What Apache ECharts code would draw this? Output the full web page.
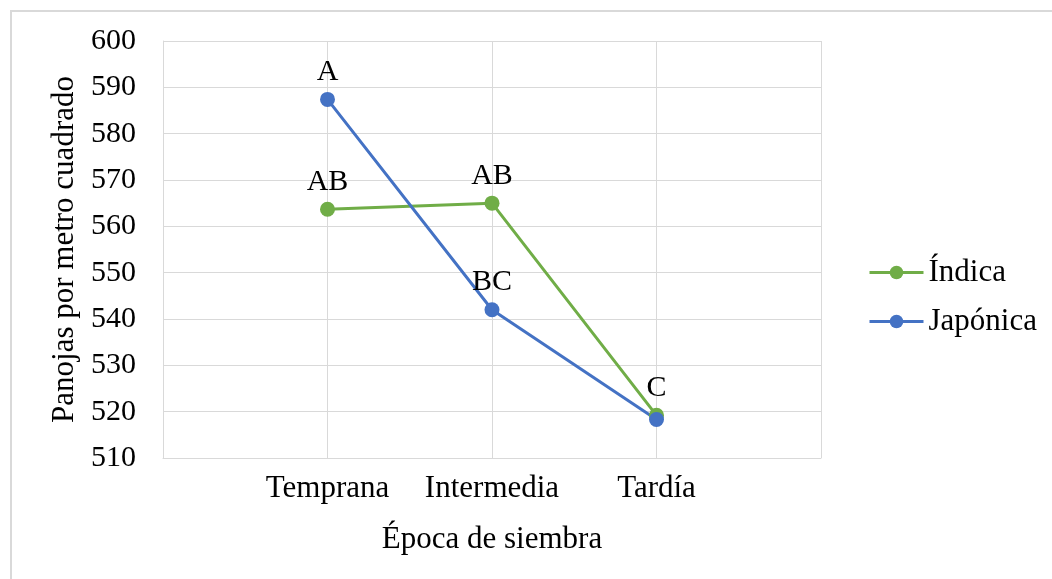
<!DOCTYPE html>
<html>
<head>
<meta charset="utf-8">
<script src="https://cdn.jsdelivr.net/npm/echarts@6/dist/echarts.min.js"></script>
<style>
  html, body { margin: 0; padding: 0; background: #fff; }
  #chart { width: 1052px; height: 579px; }
</style>
</head>
<body>
<div id="chart"></div>
<script>
// Sowing periods (category axis)
const categories = ['Temprana', 'Intermedia', 'Tardía'];
// Panicles per square metre by rice type
const indica = [563.7, 565.0, 519.2];
const japonica = [587.4, 542.0, 518.3];
// Mean-separation letters shown above the points
const indicaLetters = ['AB', 'AB', 'C'];
const japonicaLetters = ['A', 'BC', ''];
// Y-axis ticks
const yMin = 510, yMax = 600, yStep = 10;

const FONT = '"Liberation Serif", "Times New Roman", serif';
const GREEN = '#70AD47';
const BLUE = '#4472C4';
const GRID = '#d9d9d9';

function toPoints(values) {
  return values.map((v, i) => [i + 1, v]);
}

const chart = echarts.init(document.getElementById('chart'), null, { renderer: 'canvas' });

function lineSeries(name, values, letters, color) {
  return {
    name: name,
    type: 'line',
    data: toPoints(values),
    symbol: 'circle',
    symbolSize: 15,
    lineStyle: { color: color, width: 3 },
    itemStyle: { color: color },
    label: {
      show: true,
      position: 'top',
      distance: 5,
      color: '#000',
      fontFamily: FONT,
      fontSize: 30,
      formatter: p => letters[p.dataIndex]
    },
    emphasis: { disabled: true },
    z: 3
  };
}

chart.setOption({
  animation: false,
  backgroundColor: '#fff',
  textStyle: { fontFamily: FONT },
  graphic: [{
    type: 'rect',
    shape: { x: 11, y: 11, width: 1200, height: 800 },
    style: { fill: 'none', stroke: '#d9d9d9', lineWidth: 2 },
    silent: true
  }],
  grid: { left: 163, right: 231, top: 41, bottom: 121, containLabel: false },
  legend: {
    orient: 'vertical',
    left: 868,
    top: 257,
    padding: 0,
    itemWidth: 54,
    itemHeight: 17,
    itemGap: 18,
    lineStyle: { width: 3 },
    textStyle: { fontFamily: FONT, fontSize: 31, color: '#000' },
    data: ['Índica', 'Japónica']
  },
  xAxis: {
    type: 'value',
    min: 0,
    max: categories.length + 1,
    interval: 1,
    name: 'Época de siembra',
    nameLocation: 'middle',
    nameGap: 66,
    nameTextStyle: { fontFamily: FONT, fontSize: 31, color: '#000' },
    axisLine: { show: true, lineStyle: { color: GRID, width: 1 } },
    axisTick: { show: false },
    splitLine: { show: true, lineStyle: { color: GRID, width: 1 } },
    axisLabel: {
      color: '#000',
      fontFamily: FONT,
      fontSize: 31,
      margin: 15,
      formatter: v => categories[v - 1] || ''
    }
  },
  yAxis: {
    type: 'value',
    min: yMin,
    max: yMax,
    interval: yStep,
    name: 'Panojas por metro cuadrado',
    nameLocation: 'middle',
    nameGap: 83,
    nameTextStyle: { fontFamily: FONT, fontSize: 31, color: '#000' },
    axisLine: { show: true, lineStyle: { color: GRID, width: 1 } },
    axisTick: { show: false },
    splitLine: { show: true, lineStyle: { color: GRID, width: 1 } },
    axisLabel: { color: '#000', fontFamily: FONT, fontSize: 30, margin: 27 }
  },
  series: [
    lineSeries('Índica', indica, indicaLetters, GREEN),
    lineSeries('Japónica', japonica, japonicaLetters, BLUE)
  ]
});
</script>
</body>
</html>
